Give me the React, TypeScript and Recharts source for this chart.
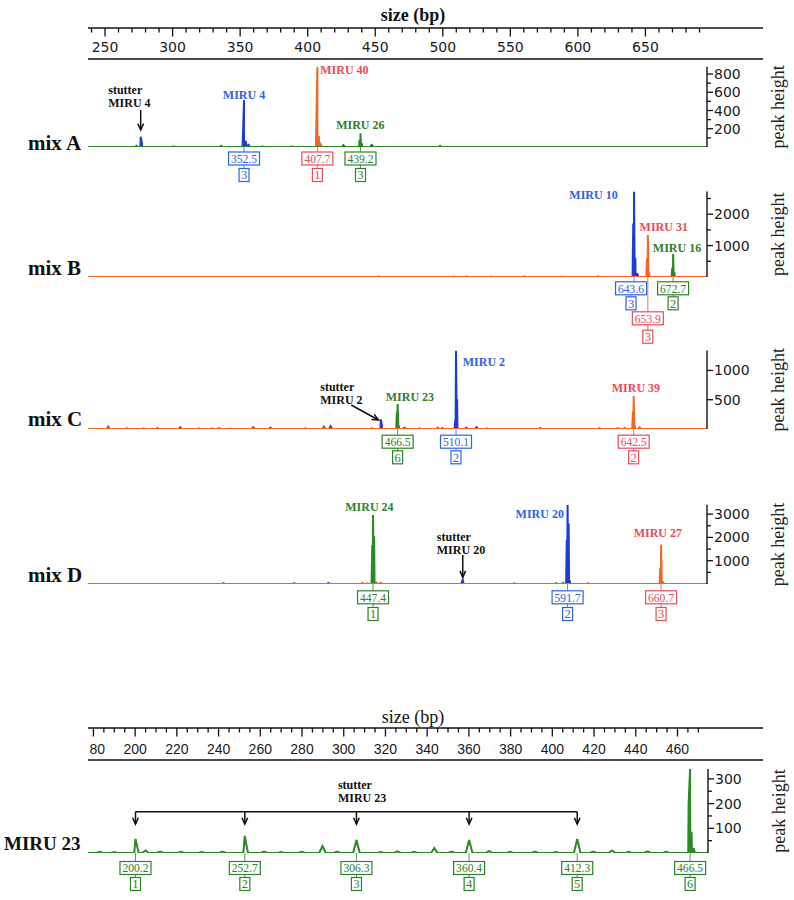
import React from 'react';
import { LineChart, Line, XAxis, YAxis, ReferenceDot, ReferenceLine } from 'recharts';

// ─── colours / fonts ─────────────────────────────────────────────────────────
const BLUE = '#1c3cd6';
const BLUE_TXT = '#2f62e2';
const ORANGE = '#f2661f';
const RED_TXT = '#ea4b59';
const GREEN = '#2b8a22';
const GREEN_TXT = '#2e8229';
const INK = '#111';
const SERIF = '"Liberation Serif", "Times New Roman", serif';
const SANS = '"DejaVu Sans", sans-serif';

// ─── size axes (bp) ──────────────────────────────────────────────────────────
const topLabels = [250, 300, 350, 400, 450, 500, 550, 600, 650];
const topTicks = Array.from({ length: 46 }, (_, i) => 240 + i * 10);
const bottomLabels = [180, 200, 220, 240, 260, 280, 300, 320, 340, 360, 380, 400, 420, 440, 460];
const bottomTicks = Array.from({ length: 59 }, (_, i) => 180 + i * 5);

// ─── traces: [size, peak height] ─────────────────────────────────────────────
type Peak = [number, number];

const mixABlue: Peak[] = [[276.4, 113], [277.3, 45], [352.9, 515], [354.0, 70], [356.3, 22], [426.5, 18], [447.4, 20], [498, 12]];
const mixAOrange: Peak[] = [[300.6, 10], [366.4, 8], [388.3, 8], [407.2, 880], [408.3, 120], [409.5, 30]];
const mixAGreen: Peak[] = [[273.3, 14], [336, 14], [438.4, 80], [439.1, 150], [440.2, 40]];

const mixBBlue: Peak[] = [[452.4, 14], [508, 10], [517.5, 12], [535.7, 10], [560.4, 16], [588, 10], [615, 12], [641.0, 1700], [641.6, 2720], [642.6, 600], [643.8, 120]];
const mixBGreen: Peak[] = [[669.9, 300], [670.5, 730], [671.5, 150]];
const mixBOrange: Peak[] = [[651.2, 600], [651.8, 1340], [652.8, 150]];

const mixCBlue: Peak[] = [[334.4, 12], [417, 45], [454.1, 165], [455.0, 60], [471.7, 20], [499.7, 15], [509.3, 160], [509.8, 1340], [510.6, 510], [517.5, 20], [525, 30], [572.2, 12], [616, 12], [629.5, 12], [634.6, 12]];
const mixCGreen: Peak[] = [[252.4, 40], [288.8, 15], [305.7, 30], [359.7, 30], [372.5, 25], [412, 40], [466.1, 300], [466.6, 426], [467.4, 60]];
const mixCOrange: Peak[] = [[266.2, 15], [278.7, 12], [319.2, 10], [329.3, 10], [342.8, 8], [398.5, 15], [447.4, 15], [482.8, 15], [496.3, 25], [532.7, 10], [640.8, 300], [641.3, 563], [642.3, 60], [645.7, 30]];

const mixDBlue: Peak[] = [[337.7, 40], [390, 40], [415.3, 45], [514.4, 120], [514.8, 170], [591.8, 1900], [592.4, 3400], [593.2, 2600], [594.2, 150]];
const mixDGreen: Peak[] = [[447.8, 1670], [448.4, 2960], [449.2, 2050], [450.2, 100], [584, 40], [589, 50]];
const mixDOrange: Peak[] = [[440.6, 50], [444, 30], [450.7, 60], [454, 50], [553, 40], [607.6, 40], [661.0, 700], [661.6, 1700], [662.6, 120], [663.4, 40]];

const miru23Green: Peak[] = [
  [183, 5], [190, 4], [200.2, 57], [201.2, 20], [205, 10], [212, 6], [222, 5], [232, 4], [242, 6],
  [252.7, 69], [253.6, 25], [262, 6], [270, 4], [280, 5], [290, 28], [297, 6], [306.3, 53], [318, 4],
  [326, 7], [334, 5], [343.7, 20], [352, 6], [360.4, 53], [370, 8], [380, 5], [392, 6], [402, 4],
  [412.3, 57], [420, 6], [429, 10], [437, 5], [446, 7], [455, 5], [465.8, 200], [466.5, 340], [467.2, 86], [468.2, 20],
];

// ─── annotation types ───────────────────────────────────────────────────────
interface Channel { color: string; peaks: Peak[] }
interface Note { x: number; y: number; lines: string[]; color: string; anchor?: 'start' | 'middle' | 'end' }
interface Seg { from: [number, number]; to: [number, number] }
interface Tag { x: number; value: string; n: string; color: string; dx?: number }

const trace = (peaks: Peak[], domain: [number, number], w: number) => {
  const pts = [{ x: domain[0], y: 0 }, { x: domain[1], y: 0 }];
  peaks.forEach(([p, h]) => {
    pts.push({ x: p - w, y: 0 }, { x: p, y: h }, { x: p + w, y: 0 });
  });
  return pts.sort((a, b) => a.x - b.x);
};

// ─── small svg pieces ────────────────────────────────────────────────────────
const SizeTick = ({ x, y, payload, labels, fontFamily, fontSize, labelDy, clipX }: any) => {
  const v = payload.value;
  const major = labels.includes(v);
  const clipped = clipX != null && x - 12 < clipX;
  return (
    <g>
      <line x1={x} y1={y} x2={x} y2={y + (major ? 8.5 : 4.5)} stroke={INK} strokeWidth={1.3} />
      {clipped && (
        <defs>
          <clipPath id={`sz-clip-${v}`}>
            <rect x={clipX} y={y} width={60} height={40} />
          </clipPath>
        </defs>
      )}
      {major && (
        <text
          x={x}
          y={y + labelDy}
          textAnchor="middle"
          fontFamily={fontFamily}
          fontSize={fontSize}
          fill="#1a1a1a"
          clipPath={clipped ? `url(#sz-clip-${v})` : undefined}
        >
          {v}
        </text>
      )}
    </g>
  );
};

const YTick = ({ x, y, payload, labels }: any) => {
  const major = labels.includes(payload.value);
  return (
    <g>
      <line x1={x} y1={y} x2={x + (major ? 6 : 4)} y2={y} stroke={INK} strokeWidth={1.3} />
      {major && (
        <text x={x + 7} y={y + 5} fontFamily={SANS} fontSize={14} fill="#1a1a1a">
          {payload.value}
        </text>
      )}
    </g>
  );
};

const peakHeightLabel = (p: any) => {
  const vb = p.viewBox ?? p;
  const cx = vb.x + 71;
  const cy = vb.y + vb.height / 2;
  return (
    <text
      x={cx}
      y={cy}
      transform={`rotate(-90 ${cx} ${cy})`}
      textAnchor="middle"
      dominantBaseline="central"
      fontFamily={SERIF}
      fontSize={18}
      fill="#222"
    >
      peak height
    </text>
  );
};

const NoteShape = ({ cx, cy, note }: any) => (
  <text
    x={cx}
    y={cy + 4}
    textAnchor={note.anchor ?? 'middle'}
    fill={note.color}
    fontFamily={SERIF}
    fontWeight="bold"
    fontSize={12}
  >
    {note.lines.map((l: string, i: number) => (
      <tspan key={i} x={cx} dy={i === 0 ? 0 : 13}>{l}</tspan>
    ))}
  </text>
);

const TagShape = ({ cx, cy, tag, d1, d2 }: any) => {
  const vw = 31;
  const nw = 10;
  const h = 13;
  const bx = cx + (tag.dx ?? 0);
  const y1 = cy + d1;
  const y2 = cy + d2;
  return (
    <g>
      <line x1={cx} y1={cy} x2={cx} y2={y1 - h / 2} stroke={tag.color} strokeWidth={0.8} />
      <rect x={bx - vw / 2} y={y1 - h / 2} width={vw} height={h} fill="#fff" stroke={tag.color} strokeWidth={1.2} />
      <text x={bx} y={y1 + 4.3} textAnchor="middle" fill={tag.color} fontFamily={SERIF} fontSize={12.5}
        textLength={26} lengthAdjust="spacingAndGlyphs">{tag.value}</text>
      <line x1={bx} y1={y1 + h / 2} x2={bx} y2={y2 - h / 2} stroke={tag.color} strokeWidth={0.8} />
      <rect x={bx - nw / 2} y={y2 - h / 2} width={nw} height={h} fill="#fff" stroke={tag.color} strokeWidth={1.2} />
      <text x={bx} y={y2 + 4.3} textAnchor="middle" fill={tag.color} fontFamily={SERIF} fontSize={12.5}>{tag.n}</text>
    </g>
  );
};

const ArrowShape = (p: any) => {
  const { x1, y1, x2, y2 } = p;
  const a = Math.atan2(y2 - y1, x2 - x1);
  const L = 7;
  const s = 0.42;
  const lx = x2 - L * Math.cos(a - s);
  const ly = y2 - L * Math.sin(a - s);
  const rx = x2 - L * Math.cos(a + s);
  const ry = y2 - L * Math.sin(a + s);
  return (
    <g>
      <line x1={x1} y1={y1} x2={x2} y2={y2} stroke={INK} strokeWidth={1.5} />
      <path d={`M${lx},${ly}L${x2},${y2}L${rx},${ry}`} fill="none" stroke={INK} strokeWidth={1.5} />
    </g>
  );
};

// ─── size axis strip ─────────────────────────────────────────────────────────
interface SizeAxisProps {
  lineY: number;
  domain: [number, number];
  ticks: number[];
  labels: number[];
  fontFamily: string;
  fontSize: number;
  labelDy: number;
  gap: number;
  clipX?: number;
}

function SizeAxis({ lineY, domain, ticks, labels, fontFamily, fontSize, labelDy, gap, clipX }: SizeAxisProps) {
  const rows = ticks.map((x) => ({ x }));
  return (
    <div style={{ position: 'absolute', left: 0, top: lineY - 28 }}>
      <LineChart width={794} height={28 + gap + 2} data={rows} margin={{ top: 0, right: 31, bottom: 0, left: 88 }}>
        <XAxis
          xAxisId="a"
          orientation="top"
          type="number"
          dataKey="x"
          domain={domain}
          allowDataOverflow
          ticks={ticks}
          interval={0}
          height={28}
          tickSize={0}
          tickMargin={0}
          tickLine={false}
          axisLine={{ stroke: INK, strokeWidth: 1.6 }}
          tick={(p: any) => (
            <SizeTick {...p} labels={labels} fontFamily={fontFamily} fontSize={fontSize} labelDy={labelDy} clipX={clipX} />
          )}
        />
        <XAxis
          xAxisId="b"
          orientation="bottom"
          type="number"
          dataKey="x"
          domain={domain}
          allowDataOverflow
          height={2}
          tick={false}
          tickLine={false}
          axisLine={{ stroke: INK, strokeWidth: 1.6 }}
        />
        <YAxis hide width={0} domain={[0, 1]} />
      </LineChart>
    </div>
  );
}

// ─── electropherogram panel ──────────────────────────────────────────────────
interface PanelProps {
  plotTop: number;
  baseline: number;
  right: number;
  xDomain: [number, number];
  yDomain: [number, number];
  yLabels: number[];
  yMinor: number[];
  channels: Channel[];
  notes: Note[];
  arrows: Seg[];
  rules?: Seg[];
  tags: Tag[];
  d1: number;
  d2: number;
  halfWidth: number;
  tagOverrides?: Record<string, { d1: number; d2: number }>;
}

const PAD_T = 30;
const PAD_B = 75;
const AXIS_W = 74;

function Panel(props: PanelProps) {
  const { plotTop, baseline, right, xDomain, yDomain, yLabels, yMinor, channels, notes, arrows, rules = [], tags, d1, d2, halfWidth, tagOverrides = {} } = props;
  const yTicks = [...yMinor, ...yLabels].sort((a, b) => a - b);
  // keep the svg on whole pixels so the shared baseline stays crisp
  const divTop = Math.floor(plotTop - PAD_T);
  const padTop = plotTop - divTop;
  return (
    <div style={{ position: 'absolute', left: 0, top: divTop }}>
      <LineChart
        width={794}
        height={baseline - divTop + PAD_B}
        margin={{ top: padTop, bottom: PAD_B, left: 88, right: 794 - right - AXIS_W }}
      >
        <XAxis type="number" dataKey="x" domain={xDomain} allowDataOverflow hide height={0} />
        <YAxis
          orientation="right"
          type="number"
          domain={yDomain}
          allowDataOverflow
          ticks={yTicks}
          interval={0}
          width={AXIS_W}
          tickSize={0}
          tickMargin={0}
          tickLine={false}
          axisLine={{ stroke: INK, strokeWidth: 1.4 }}
          tick={(p: any) => <YTick {...p} labels={yLabels} />}
          label={peakHeightLabel}
        />
        {channels.map((c, i) => (
          <Line
            key={i}
            data={trace(c.peaks, xDomain, halfWidth)}
            dataKey="y"
            type="linear"
            stroke={c.color}
            strokeWidth={2}
            dot={false}
            activeDot={false}
            isAnimationActive={false}
          />
        ))}
        {rules.map((s, i) => (
          <ReferenceLine
            key={`r${i}`}
            segment={[{ x: s.from[0], y: s.from[1] }, { x: s.to[0], y: s.to[1] }]}
            stroke={INK}
            strokeWidth={1.5}
            ifOverflow="visible"
          />
        ))}
        {arrows.map((s, i) => (
          <ReferenceLine
            key={`a${i}`}
            segment={[{ x: s.from[0], y: s.from[1] }, { x: s.to[0], y: s.to[1] }]}
            ifOverflow="visible"
            shape={ArrowShape}
          />
        ))}
        {notes.map((n, i) => (
          <ReferenceDot
            key={`n${i}`}
            x={n.x}
            y={n.y}
            r={0}
            ifOverflow="visible"
            shape={(p: any) => <NoteShape {...p} note={n} />}
          />
        ))}
        {tags.map((t, i) => {
          const o = tagOverrides[t.value] ?? { d1, d2 };
          return (
            <ReferenceDot
              key={`t${i}`}
              x={t.x}
              y={0}
              r={0}
              ifOverflow="visible"
              shape={(p: any) => <TagShape {...p} tag={t} d1={o.d1} d2={o.d2} />}
            />
          );
        })}
      </LineChart>
    </div>
  );
}

const MIX_X: [number, number] = [237.4, 695.6];
const M23_X: [number, number] = [177.4, 475.1];

const sideLabel = (top: number, size: number, left: number): React.CSSProperties => ({
  position: 'absolute',
  left,
  top,
  fontFamily: SERIF,
  fontWeight: 'bold',
  fontSize: size,
  lineHeight: `${size}px`,
  whiteSpace: 'nowrap',
  color: '#111',
});

export default function App() {
  return (
    <div style={{ position: 'absolute', left: 0, top: 0, width: 794, height: 900, background: '#fff', overflow: 'hidden' }}>
      <div style={{ position: 'absolute', left: 413, top: 5, transform: 'translateX(-50%)', fontFamily: SERIF, fontWeight: 'bold', fontSize: 18, lineHeight: '20px', whiteSpace: 'nowrap', color: '#111' }}>
        size (bp)
      </div>
      <SizeAxis lineY={28} domain={[237.4, 737]} ticks={topTicks} labels={topLabels} fontFamily={SANS} fontSize={14} labelDy={24} gap={31} />

      <Panel
        plotTop={66.7}
        baseline={147}
        right={707}
        xDomain={MIX_X}
        yDomain={[0, 880]}
        yLabels={[200, 400, 600, 800]}
        yMinor={[100, 300, 500, 700]}
        halfWidth={1.1}
        channels={[
          { color: BLUE, peaks: mixABlue },
          { color: ORANGE, peaks: mixAOrange },
          { color: GREEN, peaks: mixAGreen },
        ]}
        notes={[
          { x: 252.4, y: 625, lines: ['stutter', 'MIRU 4'], color: INK, anchor: 'start' },
          { x: 352.9, y: 570, lines: ['MIRU 4'], color: BLUE_TXT },
          { x: 409.3, y: 844, lines: ['MIRU 40'], color: RED_TXT, anchor: 'start' },
          { x: 439, y: 241, lines: ['MIRU 26'], color: GREEN_TXT },
        ]}
        arrows={[{ from: [276.4, 405], to: [276.4, 186] }]}
        tags={[
          { x: 352.9, value: '352.5', n: '3', color: BLUE_TXT },
          { x: 407.2, value: '407.7', n: '1', color: RED_TXT },
          { x: 439.1, value: '439.2', n: '3', color: GREEN_TXT },
        ]}
        d1={11.5}
        d2={28}
      />
      <div style={sideLabel(133, 21, 28)}>mix A</div>

      <Panel
        plotTop={191.6}
        baseline={277}
        right={707}
        xDomain={MIX_X}
        yDomain={[0, 2720]}
        yLabels={[1000, 2000]}
        yMinor={[500, 1500, 2500]}
        halfWidth={1.1}
        channels={[
          { color: BLUE, peaks: mixBBlue },
          { color: GREEN, peaks: mixBGreen },
          { color: ORANGE, peaks: mixBOrange },
        ]}
        notes={[
          { x: 629.5, y: 2611, lines: ['MIRU 10'], color: BLUE_TXT, anchor: 'end' },
          { x: 645.7, y: 1602, lines: ['MIRU 31'], color: RED_TXT, anchor: 'start' },
          { x: 673.4, y: 914, lines: ['MIRU 16'], color: GREEN_TXT },
        ]}
        arrows={[]}
        tags={[
          { x: 641.6, value: '643.6', n: '3', color: BLUE_TXT, dx: -3 },
          { x: 670.5, value: '672.7', n: '2', color: GREEN_TXT },
          { x: 651.8, value: '653.9', n: '3', color: RED_TXT },
        ]}
        d1={11.3}
        d2={26.3}
        tagOverrides={{ '653.9': { d1: 41.3, d2: 59.7 } }}
      />
      <div style={sideLabel(258, 21, 28)}>mix B</div>

      <Panel
        plotTop={350.5}
        baseline={429}
        right={707}
        xDomain={MIX_X}
        yDomain={[0, 1340]}
        yLabels={[500, 1000]}
        yMinor={[]}
        halfWidth={1.1}
        channels={[
          { color: BLUE, peaks: mixCBlue },
          { color: GREEN, peaks: mixCGreen },
          { color: ORANGE, peaks: mixCOrange },
        ]}
        notes={[
          { x: 409.3, y: 722, lines: ['stutter', 'MIRU 2'], color: INK, anchor: 'start' },
          { x: 475.7, y: 551, lines: ['MIRU 23'], color: GREEN_TXT },
          { x: 514.8, y: 1138, lines: ['MIRU 2'], color: BLUE_TXT, anchor: 'start' },
          { x: 643, y: 694, lines: ['MIRU 39'], color: RED_TXT },
        ]}
        arrows={[{ from: [432.2, 410], to: [452.4, 154] }]}
        tags={[
          { x: 466.6, value: '466.5', n: '6', color: GREEN_TXT },
          { x: 509.8, value: '510.1', n: '2', color: BLUE_TXT },
          { x: 641.3, value: '642.5', n: '2', color: RED_TXT },
        ]}
        d1={12.7}
        d2={28.3}
      />
      <div style={sideLabel(409, 21, 28)}>mix C</div>

      <Panel
        plotTop={504.8}
        baseline={584}
        right={707}
        xDomain={MIX_X}
        yDomain={[0, 3400]}
        yLabels={[1000, 2000, 3000]}
        yMinor={[500, 1500, 2500]}
        halfWidth={1.1}
        channels={[
          { color: BLUE, peaks: mixDBlue },
          { color: GREEN, peaks: mixDGreen },
          { color: ORANGE, peaks: mixDOrange },
        ]}
        notes={[
          { x: 445.7, y: 3292, lines: ['MIRU 24'], color: GREEN_TXT },
          { x: 495.6, y: 2030, lines: ['stutter', 'MIRU 20'], color: INK, anchor: 'start' },
          { x: 589.7, y: 3004, lines: ['MIRU 20'], color: BLUE_TXT, anchor: 'end' },
          { x: 659.2, y: 2202, lines: ['MIRU 27'], color: RED_TXT },
        ]}
        arrows={[{ from: [514.8, 1245], to: [514.8, 288] }]}
        tags={[
          { x: 448.4, value: '447.4', n: '1', color: GREEN_TXT },
          { x: 592.4, value: '591.7', n: '2', color: BLUE_TXT },
          { x: 661.6, value: '660.7', n: '3', color: RED_TXT },
        ]}
        d1={13.3}
        d2={30}
      />
      <div style={sideLabel(565, 21, 28)}>mix D</div>

      <div style={{ position: 'absolute', left: 413, top: 707, transform: 'translateX(-50%)', fontFamily: SERIF, fontSize: 18, lineHeight: '20px', whiteSpace: 'nowrap', color: '#111' }}>
        size (bp)
      </div>
      <SizeAxis lineY={728.3} domain={[177.4, 501]} ticks={bottomTicks} labels={bottomLabels} fontFamily='"Liberation Sans", Arial, sans-serif' fontSize={14} labelDy={26} gap={32} clipX={90} />

      <Panel
        plotTop={769}
        baseline={853}
        right={708}
        xDomain={M23_X}
        yDomain={[0, 340]}
        yLabels={[100, 200, 300]}
        yMinor={[50, 150, 250]}
        halfWidth={1.6}
        channels={[{ color: GREEN, peaks: miru23Green }]}
        notes={[{ x: 297.4, y: 275, lines: ['stutter', 'MIRU 23'], color: INK, anchor: 'start' }]}
        rules={[{ from: [200.2, 167], to: [412.3, 167] }]}
        arrows={[200.2, 252.7, 306.3, 360.4, 412.3].map((p) => ({ from: [p, 167] as [number, number], to: [p, 117] as [number, number] }))}
        tags={[
          { x: 200.2, value: '200.2', n: '1', color: GREEN_TXT },
          { x: 252.7, value: '252.7', n: '2', color: GREEN_TXT },
          { x: 306.3, value: '306.3', n: '3', color: GREEN_TXT },
          { x: 360.4, value: '360.4', n: '4', color: GREEN_TXT },
          { x: 412.3, value: '412.3', n: '5', color: GREEN_TXT },
          { x: 466.5, value: '466.5', n: '6', color: GREEN_TXT },
        ]}
        d1={15}
        d2={31}
      />
      <div style={sideLabel(834, 19, 4)}>MIRU 23</div>
    </div>
  );
}
